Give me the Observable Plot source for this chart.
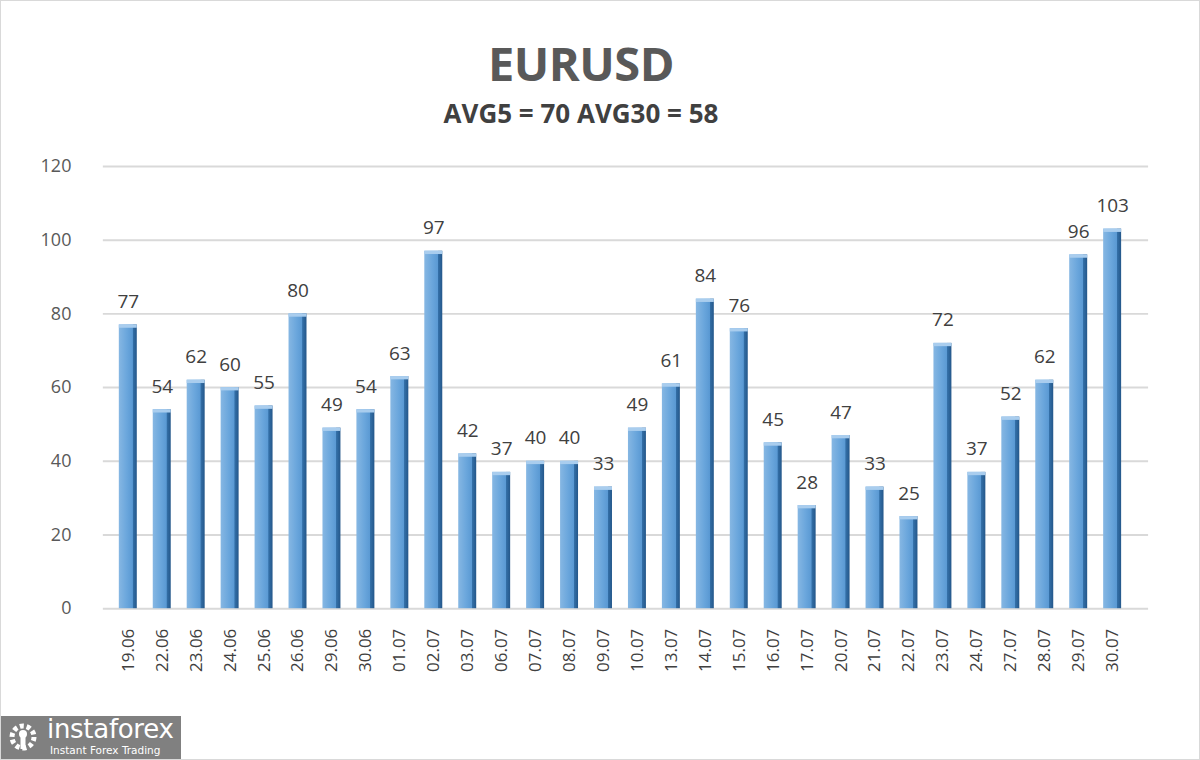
<!DOCTYPE html>
<html>
<head>
<meta charset="utf-8">
<script src="https://cdn.jsdelivr.net/npm/d3@7"></script>
<script src="https://cdn.jsdelivr.net/npm/@observablehq/plot@0.6"></script>
<style>
  html, body { margin: 0; padding: 0; background: #fff; }
  #frame { position: relative; width: 1198px; height: 758px; border: 1px solid #d9d9d9; overflow: hidden; font-family: "Open Sans", "Noto Sans", sans-serif; }
  #title { position: absolute; left: 480px; top: 27px; width: 200px; text-align: center; font-size: 47px; font-weight: 700; color: #595959; line-height: 70px; letter-spacing: -0.5px; }
  #subtitle { position: absolute; left: 380px; top: 94px; width: 400px; text-align: center; font-size: 26px; font-weight: 700; color: #404040; line-height: 36px; }
  #chart { position: absolute; left: 0; top: 140px; }
  #logo { position: absolute; left: 0; top: 715px; width: 180px; height: 45px; background: #808080; color: #fff; }
  #logo .icon { position: absolute; left: 7px; top: 6px; width: 30px; height: 30px; }
  #logo .name { position: absolute; left: 46px; top: -2px; font-family: "DejaVu Sans", sans-serif; font-size: 26px; letter-spacing: -0.3px; font-weight: 400; }
  #logo .tag { position: absolute; left: 49px; top: 28px; font-family: "DejaVu Sans", sans-serif; font-size: 10.5px; }
</style>
</head>
<body>
<div id="frame">
  <div id="title">EURUSD</div>
  <div id="subtitle">AVG5 = 70 AVG30 = 58</div>
  <div id="chart"></div>
  <div id="logo">
    <svg class="icon" viewBox="0 0 30 30">
      <circle cx="15" cy="15" r="11" fill="none" stroke="#fff" stroke-width="5" stroke-dasharray="4 2.9"/>
      <circle cx="15" cy="12" r="4" fill="#fff"/>
      <rect x="12.5" y="15" width="5" height="12" fill="#fff"/>
    </svg>
    <div class="name">instaforex</div>
    <div class="tag">Instant Forex Trading</div>
  </div>
</div>
<script>
const dates = ["19.06","22.06","23.06","24.06","25.06","26.06","29.06","30.06","01.07","02.07",
               "03.07","06.07","07.07","08.07","09.07","10.07","13.07","14.07","15.07","16.07",
               "17.07","20.07","21.07","22.07","23.07","24.07","27.07","28.07","29.07","30.07"];
const values = [77,54,62,60,55,80,49,54,63,97,
                42,37,40,40,33,49,61,84,76,45,
                28,47,33,25,72,37,52,62,96,103];
const yTicks = [0,20,40,60,80,100,120];

const data = dates.map((d, i) => ({date: d, value: values[i]}));

const chart = Plot.plot({
  width: 1200,
  height: 575,
  marginTop: 25,
  marginBottom: 107,
  marginLeft: 96,
  marginRight: 57,
  style: {fontFamily: "'Open Sans', 'Noto Sans', sans-serif", background: "transparent"},
  x: {domain: dates, paddingInner: 0.48, paddingOuter: 0.24, label: null},
  y: {domain: [0, 120], label: null},
  marks: [
    Plot.ruleY(yTicks, {stroke: "#d9d9d9", strokeWidth: 2, dx: 6}),
    Plot.barY(data, {x: "date", y: "value", fill: "url(#barGrad)"}),
    Plot.barY(data, {x: "date", y1: (d) => d.value, y2: (d) => d.value - 0.9, fill: "#a9cdee"}),
    Plot.text(data, {x: "date", y: "value", text: (d) => String(d.value), dy: -23, fontSize: 19, fill: "#404040"}),
    Plot.axisY({ticks: yTicks, tickSize: 0, tickPadding: 26, fontSize: 18, fill: "#595959"}),
    Plot.axisX({tickSize: 0, tickRotate: -90, tickPadding: 20, fontSize: 17, fill: "#404040"})
  ]
});

const ns = "http://www.w3.org/2000/svg";
const defs = document.createElementNS(ns, "defs");
defs.innerHTML = `
  <linearGradient id="barGrad" x1="0" x2="1" y1="0" y2="0">
    <stop offset="0%" stop-color="#86b7e3"/>
    <stop offset="45%" stop-color="#6aa6dc"/>
    <stop offset="76%" stop-color="#5a99d3"/>
    <stop offset="78%" stop-color="#3470a8"/>
    <stop offset="100%" stop-color="#24578a"/>
  </linearGradient>`;
chart.insertBefore(defs, chart.firstChild);
document.getElementById("chart").appendChild(chart);
</script>
</body>
</html>
